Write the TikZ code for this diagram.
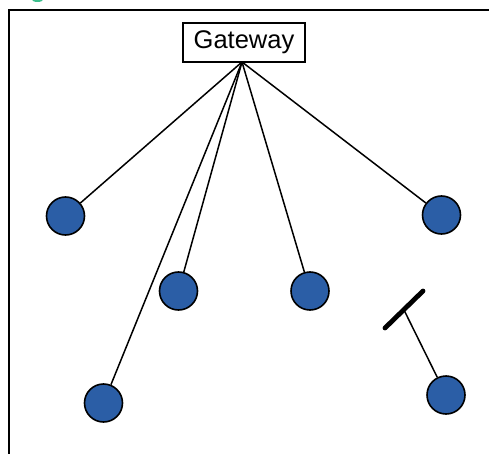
\documentclass[tikz,border=0pt]{standalone}
\usepackage{fontspec}
\setmainfont{Liberation Sans}
\definecolor{nodeblue}{RGB}{43,94,166}
\definecolor{markgreen}{RGB}{60,190,140}
\begin{document}
\begin{tikzpicture}[x=1pt,y=-1pt,
  dev/.style={circle,draw=black,line width=1.6pt,fill=nodeblue,minimum size=38pt,inner sep=0pt},
  gw/.style={draw=black,line width=1.1pt,minimum width=122pt,minimum height=39pt,inner sep=0pt,font=\fontsize{25.5}{29}\selectfont},
  link/.style={line width=1.5pt},
  bar/.style={line width=4.8pt,line cap=round}]
\useasboundingbox (0,0) rectangle (489,454);
\begin{scope}
\clip (0,0) rectangle (489,454);
\fill[markgreen] (37.5,-1) ellipse (6pt and 3pt);
\draw[line width=1.7pt] (9,460) -- (9,10) -- (495,10);
\end{scope}
\node[gw] (g) at (244,42.5) {Gateway};
\coordinate (gp) at (242,62);
\node[dev] (c1) at (65.5,216) {};
\node[dev] (c2) at (178.5,291) {};
\node[dev] (c3) at (310,291) {};
\node[dev] (c4) at (441.5,215) {};
\node[dev] (c5) at (103.5,403) {};
\node[dev] (c6) at (446,395) {};
\coordinate (b1) at (385,328);
\coordinate (b2) at (423,291);
\coordinate (bm) at (404,310);
\foreach \c in {c1,c2,c3,c4,c5}{\draw[link] (gp) -- (\c);}
\draw[bar] (b1) -- (b2);
\draw[link] (bm) -- (c6);
\end{tikzpicture}
\end{document}
